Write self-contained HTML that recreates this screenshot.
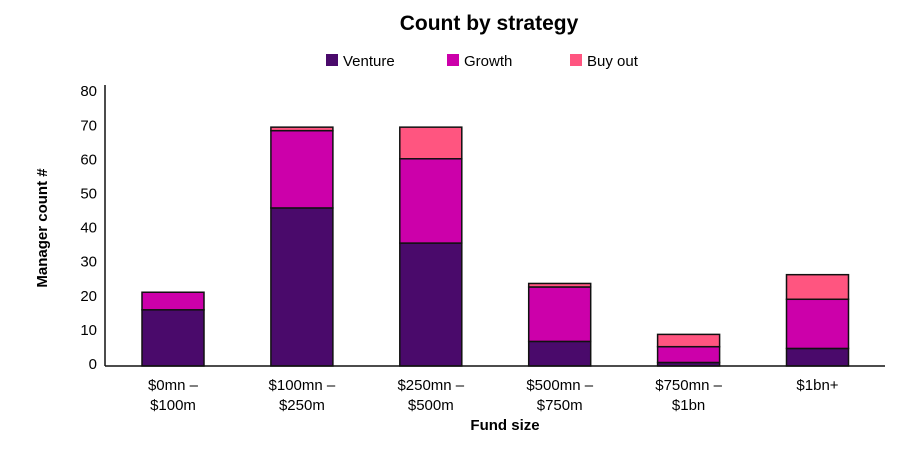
<!DOCTYPE html>
<html><head><meta charset="utf-8"><style>
body{margin:0;background:#fff;font-family:"Liberation Sans",sans-serif}
svg text{font-family:"Liberation Sans",sans-serif}
</style></head><body>
<svg id="c" width="900" height="464">
<text x="489" y="30" text-anchor="middle" font-size="21" font-weight="bold" fill="#000">Count by strategy</text>
<g>
<rect x="326" y="54" width="12" height="12" fill="#4a0a6b"/>
<text x="343" y="66" font-size="15">Venture</text>
<rect x="447" y="54" width="12" height="12" fill="#cc00aa"/>
<text x="464" y="66" font-size="15">Growth</text>
<rect x="570" y="54" width="12" height="12" fill="#ff5580"/>
<text x="587" y="66" font-size="15">Buy out</text>
</g>
<text transform="translate(47,228) rotate(-90)" text-anchor="middle" font-size="15" font-weight="bold">Manager count #</text>
<text x="505" y="430" text-anchor="middle" font-size="15" font-weight="bold">Fund size</text>
<g id="bars"></g>
<g id="axes"></g>
</svg>
<script>
const categories=[["$0mn –","$100m"],["$100mn –","$250m"],["$250mn –","$500m"],["$500mn –","$750m"],["$750mn –","$1bn"],["$1bn+"]];
const venture=[16,45,35,7,1,5];
const growth=[5,22,24,15.5,4.5,14];
const buyout=[0,1,9,1,3.5,7];
const yTicks=[0,10,20,30,40,50,60,70,80];
const colors=["#4a0a6b","#cc00aa","#ff5580"];
const NS="http://www.w3.org/2000/svg";
const y0=366,yTop=85,yMax=80;
function y(v){return y0-v*(y0-yTop)/yMax;}
function xc(i){return 173+i*128.9;}
const bars=document.getElementById('bars'),axes=document.getElementById('axes');
function mk(tag,attrs,parent){const e=document.createElementNS(NS,tag);for(const k in attrs)e.setAttribute(k,attrs[k]);parent.appendChild(e);return e;}
const series=[venture,growth,buyout],names=["venture","growth","buyout"];
categories.forEach((c,i)=>{
  let base=0;
  series.forEach((s,j)=>{
    const v=s[i];if(v<=0)return;
    const r=mk('rect',{x:xc(i)-31,y:y(base+v),width:62,height:y(base)-y(base+v),fill:colors[j],stroke:'#111','stroke-width':1.5},bars);
    
    
    base+=v;
  });
  c.forEach((line,k)=>{
    const t=mk('text',{x:xc(i),y:390+k*20,'text-anchor':'middle','font-size':15},axes);
    t.textContent=line;
    
    
  });
});
yTicks.forEach(v=>{
  const t=mk('text',{x:97,y:363-v*3.41+6,'text-anchor':'end','font-size':15},axes);
  t.textContent=v;
  
  
});
const ya=mk('line',{x1:105,y1:yTop,x2:105,y2:y0,stroke:'#111','stroke-width':1.5},axes);


const xa=mk('line',{x1:105,y1:y0,x2:885,y2:y0,stroke:'#111','stroke-width':1.5},axes);


</script>
</body></html>
